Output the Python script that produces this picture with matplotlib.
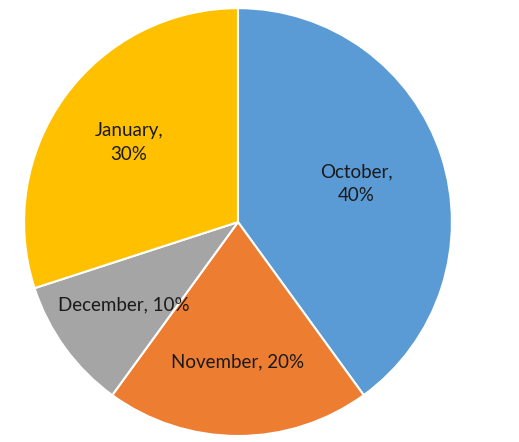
import numpy as np
import matplotlib
matplotlib.use('Agg')
from matplotlib import pyplot as plt

months = ['October', 'November', 'December', 'January']
shares = [40, 20, 10, 30]
colors = ['#5B9BD5', '#ED7D31', '#A5A5A5', '#FFC000']
# how each label breaks in the original
label_fmt = ['{},\n{}%', '{}, {}%', '{}, {}%', '{},\n{}%']
# distance of each label from the centre (fraction of radius)
label_dist = [0.58, 0.655, 0.66, 0.63]

labels = [f.format(m, s) for f, m, s in zip(label_fmt, months, shares)]

fig = plt.figure(figsize=(5.19, 4.42), dpi=100)
ax = fig.add_axes([0.0462, 0.0136, 0.8247, 0.968])

wedges, _ = ax.pie(shares, colors=colors, startangle=90, counterclock=False,
                   wedgeprops=dict(edgecolor='white', linewidth=1.5))

for w, lab, d in zip(wedges, labels, label_dist):
    ang = np.deg2rad((w.theta1 + w.theta2) / 2)
    ax.text(d * np.cos(ang), d * np.sin(ang), lab, ha='center', va='center',
            multialignment='center', linespacing=1.5,
            fontsize=13.5, family='Lato', color='#1a1a1a')

ax.set_aspect('equal')
ax.set_xlim(-1, 1)
ax.set_ylim(-1, 1)

fig.savefig('out.png', dpi=100)
